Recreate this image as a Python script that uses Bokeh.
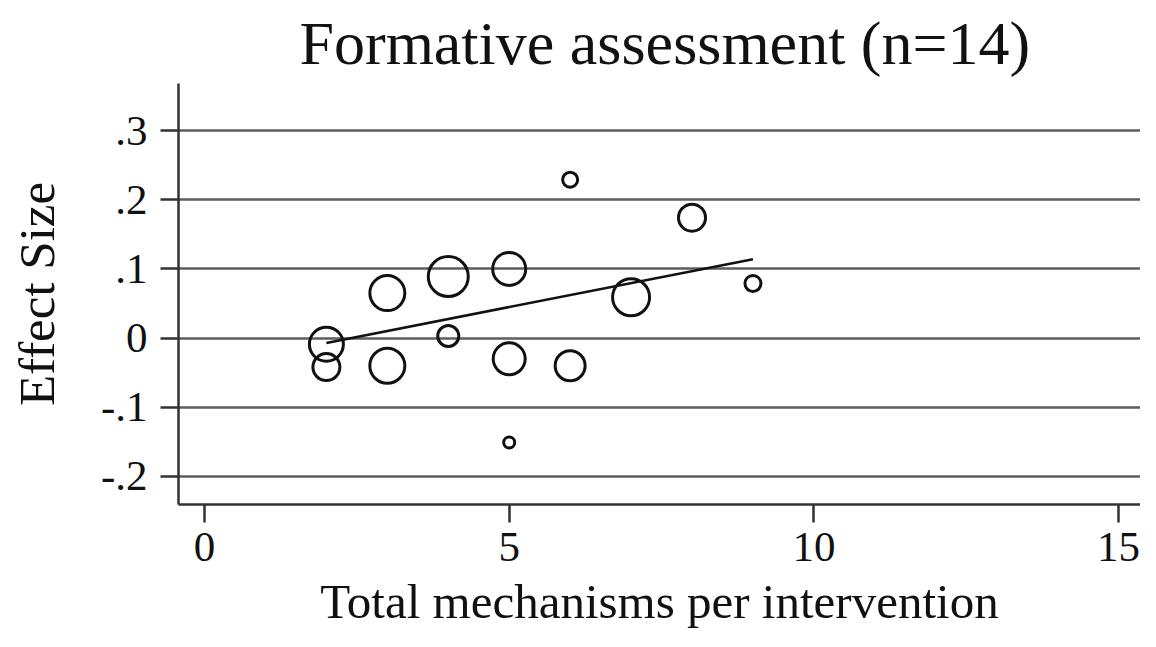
from bokeh.plotting import figure
from bokeh.models import FixedTicker, Range1d, ColumnDataSource
from bokeh.embed import file_html
from bokeh.resources import INLINE

# Data
mechanisms = [2, 2, 3, 3, 4, 4, 5, 5, 5, 6, 6, 7, 8, 9]
effect_size = [-0.009, -0.042, 0.065, -0.040, 0.089, 0.003, 0.100, -0.030, -0.151, 0.229, -0.040, 0.059, 0.174, 0.079]
weight = [37, 30, 38, 38, 43, 24, 36, 35, 14, 18, 33, 40, 30, 19]  # relative marker weight (diameter)

fit_x = [2, 9]
fit_y = [-0.007, 0.114]

x_ticks = [0, 5, 10, 15]
y_ticks = [-0.2, -0.1, 0, 0.1, 0.2, 0.3]
y_tick_labels = ["-.2", "-.1", "0", ".1", ".2", ".3"]

title_text = "Formative assessment (n=14)"
x_label = "Total mechanisms per intervention"
y_label = "Effect Size"

FONT = "Liberation Serif"
LW = 3

src = ColumnDataSource(dict(x=mechanisms, y=effect_size,
                            s=[w - LW for w in weight]))

p = figure(width=1140, height=631, output_backend="svg", toolbar_location=None,
           x_range=Range1d(-0.427, 15.36), y_range=Range1d(-0.2406, 0.368),
           min_border_left=178, min_border_right=0, min_border_top=83,
           min_border_bottom=120)

p.title.text = title_text
p.title.text_font = FONT
p.title.text_font_size = "62px"
p.title.text_font_style = "normal"
p.title.align = "left"
p.title.offset = 121
p.title.text_color = "#111111"
p.title.standoff = 13

p.outline_line_color = None
p.background_fill_color = "white"
p.border_fill_color = "white"

# grids
p.xgrid.grid_line_color = None
p.ygrid.ticker = FixedTicker(ticks=y_ticks)
p.ygrid.grid_line_color = "#5e5e5e"
p.ygrid.grid_line_width = 2.5

# axes
for ax in (p.xaxis[0], p.yaxis[0]):
    ax.axis_line_color = "#333333"
    ax.axis_line_width = 2.5
    ax.major_tick_line_color = "#333333"
    ax.major_tick_line_width = 2.5
    ax.major_tick_out = 18
    ax.major_tick_in = 0
    ax.minor_tick_line_color = None
    ax.major_label_text_font = FONT
    ax.major_label_text_font_size = "43px"
    ax.major_label_text_color = "#111111"
    ax.major_label_text_line_height = 1.0
    ax.axis_label_text_font = FONT
    ax.axis_label_text_font_style = "normal"
    ax.axis_label_text_color = "#111111"
    ax.axis_label_text_line_height = 1.0

p.xaxis.axis_label_text_font_size = "49px"
p.yaxis.axis_label_text_font_size = "51px"
p.xaxis.ticker = FixedTicker(ticks=x_ticks)
p.yaxis.ticker = FixedTicker(ticks=y_ticks)
p.yaxis.major_label_overrides = {t: l for t, l in zip(y_ticks, y_tick_labels)}
p.yaxis.major_label_orientation = "horizontal"
p.xaxis.axis_label = x_label
p.yaxis.axis_label = y_label
p.xaxis.major_label_standoff = 10
p.yaxis.major_label_standoff = 13
p.xaxis.axis_label_standoff = 10
p.yaxis.axis_label_standoff = 33

p.scatter("x", "y", size="s", source=src, marker="circle",
          fill_color=None, line_color="#111111", line_width=LW)
p.line(fit_x, fit_y, line_color="#111111", line_width=2.5)

open("out.html", "w").write(file_html(p, INLINE))
